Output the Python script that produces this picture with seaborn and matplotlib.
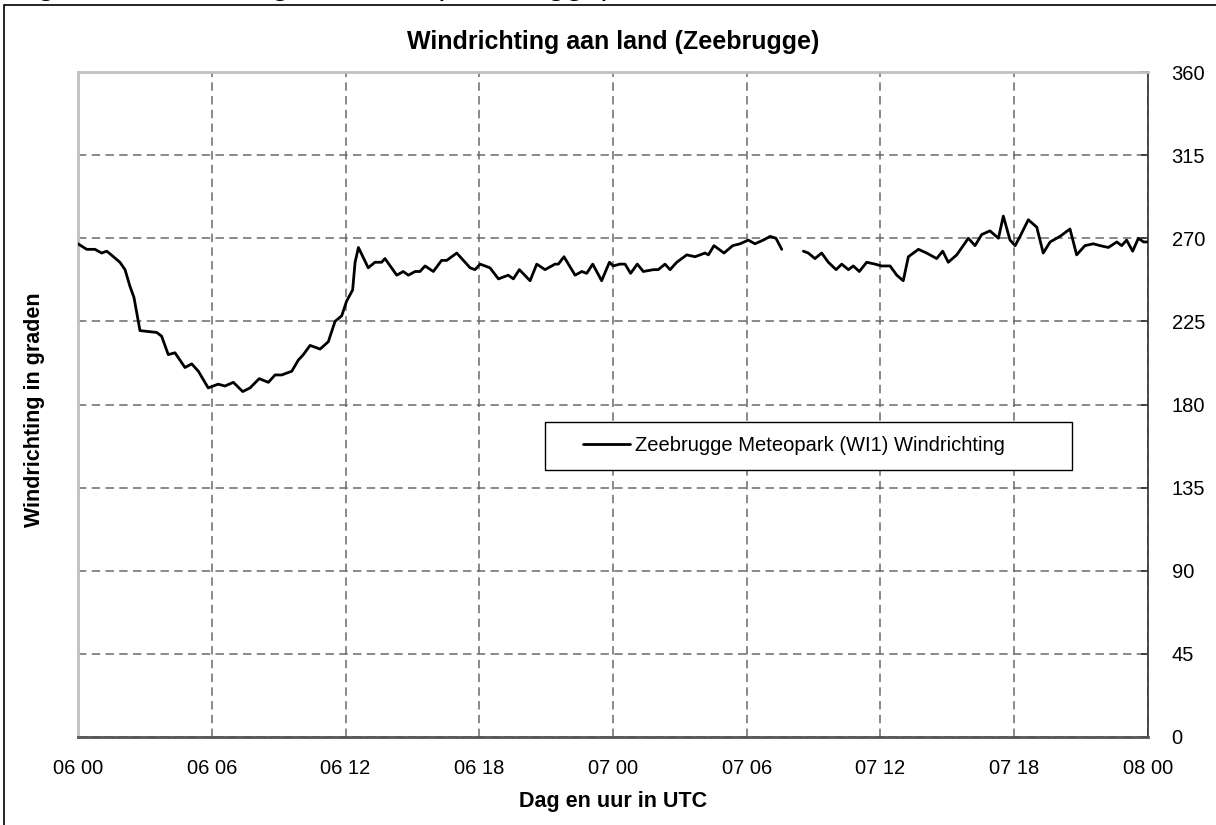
import matplotlib
matplotlib.use("Agg")
import matplotlib.pyplot as plt
import matplotlib.patches as mpatches
import numpy as np
import pandas as pd
import seaborn as sns

# hours since 06 00 UTC, wind direction in degrees
hours_a = [0.00, 0.39, 0.76, 1.06, 1.29, 1.59, 1.88, 2.11, 2.33, 2.51, 2.78, 3.53,
           3.75, 4.05, 4.35, 4.80, 5.10, 5.40, 5.84, 6.29, 6.59, 6.97, 7.39, 7.72,
           8.13, 8.54, 8.84, 9.14, 9.36, 9.59, 9.88, 10.11, 10.41, 10.86, 11.23,
           11.53, 11.83, 12.05, 12.32, 12.43, 12.58, 13.02, 13.32, 13.62, 13.77,
           14.30, 14.59, 14.82, 15.12, 15.34, 15.57, 15.94, 16.31, 16.54, 16.99,
           17.59, 17.81, 18.04, 18.48, 18.86, 19.30, 19.53, 19.80, 20.28, 20.58,
           20.95, 21.40, 21.55, 21.80, 22.30, 22.60, 22.82, 23.09, 23.49, 23.84,
           24.01, 24.31, 24.54, 24.79, 25.09, 25.36, 25.81, 26.03, 26.33, 26.56,
           26.86, 27.31, 27.68, 28.13, 28.28, 28.53, 28.98, 29.37, 29.70, 30.07,
           30.37, 30.74, 31.05, 31.31, 31.57]
dir_a = [267, 264, 264, 262, 263, 260, 257, 253, 244, 238, 220, 219,
         217, 207, 208, 200, 202, 198, 189, 191, 190, 192, 187, 189,
         194, 192, 196, 196, 197, 198, 204, 207, 212, 210, 214,
         225, 228, 236, 242, 257, 265, 254, 257, 257, 259,
         250, 252, 250, 252, 252, 255, 252, 258, 258, 262,
         254, 253, 256, 254, 248, 250, 248, 253, 247, 256,
         253, 256, 256, 260, 250, 252, 251, 256, 247, 257,
         255, 256, 256, 251, 256, 252, 253, 253, 256, 253,
         257, 261, 260, 262, 261, 266, 262, 266, 267, 269,
         267, 269, 271, 270, 264]

hours_b = [32.54, 32.76, 33.06, 33.36, 33.66, 34.01, 34.26, 34.56, 34.78, 35.05,
           35.38, 35.75, 36.05, 36.43, 36.73, 37.02, 37.25, 37.70, 38.07, 38.52,
           38.79, 39.04, 39.42, 39.94, 40.24, 40.54, 40.91, 41.29, 41.51, 41.81,
           42.04, 42.26, 42.63, 43.01, 43.30, 43.61, 44.05, 44.50, 44.80, 45.17,
           45.55, 45.85, 46.22, 46.60, 46.82, 47.04, 47.31, 47.57, 47.80, 48.00]
dir_b = [263, 262, 259, 262, 257, 253, 256, 253, 255, 252,
         257, 256, 255, 255, 250, 247, 260, 264, 262, 259,
         263, 257, 261, 270, 266, 272, 274, 270, 282, 269,
         266, 271, 280, 276, 262, 268, 271, 275, 261, 266,
         267, 266, 265, 268, 266, 269, 263, 270, 268, 268]

tick_labels = ["06 00", "06 06", "06 12", "06 18", "07 00",
               "07 06", "07 12", "07 18", "08 00"]
series_name = "Zeebrugge Meteopark (WI1) Windrichting"

df = pd.DataFrame({
    "uur": hours_a + hours_b,
    "richting": dir_a + dir_b,
    "deel": ["a"] * len(hours_a) + ["b"] * len(hours_b),
})

sns.set_theme(style="white")
plt.rcParams["font.family"] = ["Liberation Sans", "DejaVu Sans"]
plt.rcParams["text.color"] = "black"

W, H = 1216, 825
fig = plt.figure(figsize=(W / 100, H / 100), dpi=100)
ax = fig.add_axes([78 / W, 1 - 737 / H, 1070 / W, 665 / H])

sns.lineplot(data=df, x="uur", y="richting", units="deel", estimator=None,
             color="black", lw=2.0, ax=ax, zorder=3)
for ln in ax.lines:
    ln.set_solid_joinstyle("round")

ax.set_xlim(0, 48)
ax.set_ylim(0, 360)
ax.set_xticks(np.arange(0, 49, 6))
ax.set_xticklabels(tick_labels)
ax.set_yticks(np.arange(0, 361, 45))
ax.yaxis.tick_right()
ax.set_xlabel("")
ax.set_ylabel("")

ax.grid(True, color="#6a6a6a", lw=1.1, ls=(0, (5.5, 3.5)), zorder=0)
ax.tick_params(axis="x", direction="out", length=7, width=1.2, color="#505050",
               labelsize=14.5, pad=9, labelcolor="black")
ax.tick_params(axis="y", direction="in", length=5, width=1.2, color="#303030",
               labelsize=14.5, pad=17, labelcolor="black", right=True, left=False)

for side in ["left", "top"]:
    ax.spines[side].set_color("#c0c0c0")
    ax.spines[side].set_linewidth(2)
ax.spines["bottom"].set_color("#555555")
ax.spines["bottom"].set_linewidth(2)
ax.spines["right"].set_color("#303030")
ax.spines["right"].set_linewidth(1.2)
for s in ax.spines.values():
    s.set_visible(True)

# legend box
box = mpatches.Rectangle((0.4364, 0.4015), 0.4926, 0.0722, transform=ax.transAxes,
                         facecolor="white", edgecolor="black", lw=1.0, zorder=4)
ax.add_patch(box)
leg = ax.legend([plt.Line2D([], [], color="black", lw=2.0)], [series_name],
                loc="center", bbox_to_anchor=(0.669, 0.4376), frameon=False,
                fontsize=14.5, handlelength=2.35, handletextpad=0.25)
leg.set_zorder(5)
for t in leg.get_texts():
    t.set_color("black")

fig.text(613 / W, 1 - 42 / H, "Windrichting aan land (Zeebrugge)",
         ha="center", va="center", fontsize=18, fontweight="bold")
fig.text(613 / W, 1 - 802 / H, "Dag en uur in UTC",
         ha="center", va="center", fontsize=15.5, fontweight="bold")
fig.text(35 / W, 1 - 410 / H, "Windrichting in graden", rotation=90,
         ha="center", va="center", fontsize=15.5, fontweight="bold")

# caption above the chart, mostly cut off by the page edge
fig.text(10 / W, 1 + 6 / H, "Fig. 6: Windrichting aan land (Zeebrugge)",
         ha="left", va="baseline", fontsize=23.5)

# outer frame of the embedded chart
frame = mpatches.Rectangle((4 / W, -0.2), 1.5, 1.2 - 5 / H, transform=fig.transFigure,
                           fill=False, edgecolor="black", lw=1.2, clip_on=False)
fig.patches.append(frame)

fig.savefig("out.png", dpi=100)
